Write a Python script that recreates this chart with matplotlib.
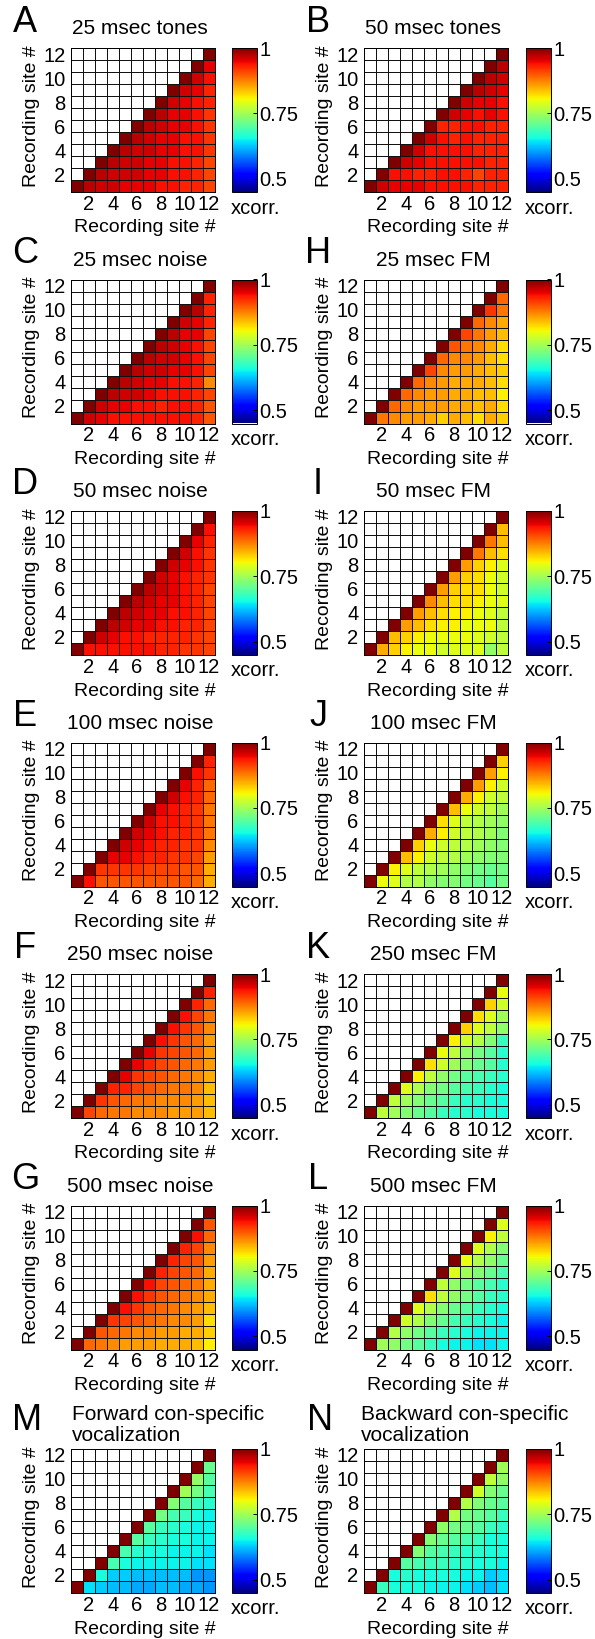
import numpy as np
import matplotlib
matplotlib.use('Agg')
import matplotlib.pyplot as plt
from matplotlib.colors import Normalize

plt.rcParams['font.family'] = ['Liberation Sans', 'DejaVu Sans']

# ---------------- data ----------------
sites = list(range(1, 13))
tick_sites = [2, 4, 6, 8, 10, 12]
cbar_ticks = [0.5, 0.75, 1.0]
cbar_ticklabels = ['0.5', '0.75', '1']
clim = (0.45, 1.0)
diag_value = 1.0

# each list: row y (1..11) -> xcorr values for columns y+1..12
tones_25 = [
    [0.97, 0.96, 0.96, 0.95, 0.95, 0.95, 0.94, 0.94, 0.93, 0.93, 0.91],
    [0.97, 0.96, 0.96, 0.96, 0.95, 0.95, 0.94, 0.94, 0.93, 0.91],
    [0.97, 0.96, 0.96, 0.95, 0.95, 0.94, 0.94, 0.93, 0.91],
    [0.97, 0.96, 0.96, 0.95, 0.95, 0.94, 0.94, 0.92],
    [0.97, 0.96, 0.95, 0.95, 0.94, 0.94, 0.92],
    [0.97, 0.96, 0.95, 0.95, 0.94, 0.92],
    [0.97, 0.95, 0.95, 0.94, 0.92],
    [0.96, 0.95, 0.94, 0.93],
    [0.96, 0.95, 0.93],
    [0.96, 0.94],
    [0.95],
]
tones_50 = [
    [0.96, 0.95, 0.95, 0.95, 0.94, 0.94, 0.94, 0.94, 0.93, 0.93, 0.93],
    [0.94, 0.94, 0.93, 0.93, 0.94, 0.94, 0.93, 0.91, 0.93, 0.93],
    [0.96, 0.95, 0.94, 0.94, 0.94, 0.94, 0.94, 0.93, 0.93],
    [0.96, 0.94, 0.94, 0.94, 0.94, 0.93, 0.93, 0.93],
    [0.96, 0.94, 0.93, 0.94, 0.93, 0.93, 0.93],
    [0.93, 0.93, 0.94, 0.94, 0.93, 0.93],
    [0.96, 0.95, 0.94, 0.95, 0.94],
    [0.96, 0.95, 0.95, 0.94],
    [0.97, 0.96, 0.95],
    [0.97, 0.96],
    [0.97],
]
noise_25 = [
    [0.96, 0.95, 0.94, 0.94, 0.94, 0.94, 0.94, 0.94, 0.94, 0.93, 0.90],
    [0.96, 0.95, 0.95, 0.94, 0.94, 0.93, 0.94, 0.94, 0.93, 0.90],
    [0.97, 0.96, 0.96, 0.95, 0.94, 0.94, 0.94, 0.93, 0.91],
    [0.97, 0.96, 0.95, 0.95, 0.94, 0.94, 0.93, 0.87],
    [0.97, 0.96, 0.96, 0.95, 0.95, 0.94, 0.91],
    [0.97, 0.96, 0.96, 0.95, 0.94, 0.91],
    [0.97, 0.96, 0.95, 0.94, 0.91],
    [0.97, 0.95, 0.95, 0.91],
    [0.96, 0.95, 0.93],
    [0.97, 0.93],
    [0.93],
]
fm_25 = [
    [0.88, 0.87, 0.86, 0.86, 0.85, 0.83, 0.85, 0.84, 0.82, 0.85, 0.83],
    [0.89, 0.87, 0.86, 0.86, 0.86, 0.85, 0.85, 0.84, 0.85, 0.82],
    [0.89, 0.87, 0.86, 0.86, 0.85, 0.85, 0.84, 0.84, 0.81],
    [0.89, 0.87, 0.86, 0.85, 0.85, 0.85, 0.84, 0.82],
    [0.91, 0.87, 0.86, 0.86, 0.85, 0.84, 0.83],
    [0.89, 0.87, 0.87, 0.86, 0.84, 0.82],
    [0.90, 0.88, 0.87, 0.85, 0.82],
    [0.91, 0.88, 0.86, 0.84],
    [0.89, 0.87, 0.85],
    [0.92, 0.88],
    [0.89],
]
noise_50 = [
    [0.94, 0.94, 0.94, 0.94, 0.94, 0.94, 0.93, 0.93, 0.92, 0.92, 0.91],
    [0.96, 0.95, 0.94, 0.94, 0.93, 0.93, 0.93, 0.93, 0.92, 0.91],
    [0.97, 0.96, 0.95, 0.95, 0.94, 0.94, 0.93, 0.93, 0.91],
    [0.97, 0.96, 0.95, 0.95, 0.94, 0.94, 0.93, 0.91],
    [0.97, 0.96, 0.95, 0.95, 0.94, 0.93, 0.91],
    [0.97, 0.96, 0.95, 0.94, 0.93, 0.91],
    [0.96, 0.95, 0.94, 0.93, 0.92],
    [0.96, 0.95, 0.94, 0.92],
    [0.96, 0.94, 0.92],
    [0.95, 0.93],
    [0.94],
]
fm_50 = [
    [0.85, 0.83, 0.81, 0.80, 0.80, 0.78, 0.79, 0.79, 0.79, 0.74, 0.77],
    [0.84, 0.83, 0.81, 0.80, 0.80, 0.80, 0.80, 0.79, 0.78, 0.77],
    [0.86, 0.84, 0.82, 0.81, 0.81, 0.80, 0.80, 0.80, 0.77],
    [0.86, 0.84, 0.82, 0.81, 0.81, 0.80, 0.79, 0.77],
    [0.87, 0.84, 0.82, 0.82, 0.81, 0.80, 0.79],
    [0.86, 0.83, 0.82, 0.82, 0.80, 0.78],
    [0.86, 0.83, 0.82, 0.80, 0.78],
    [0.86, 0.83, 0.81, 0.79],
    [0.88, 0.84, 0.82],
    [0.88, 0.84],
    [0.84],
]
noise_100 = [
    [0.94, 0.90, 0.90, 0.90, 0.90, 0.90, 0.90, 0.90, 0.90, 0.89, 0.85],
    [0.92, 0.92, 0.92, 0.92, 0.91, 0.91, 0.91, 0.90, 0.90, 0.85],
    [0.95, 0.95, 0.94, 0.93, 0.93, 0.92, 0.92, 0.91, 0.86],
    [0.96, 0.95, 0.94, 0.93, 0.93, 0.92, 0.92, 0.87],
    [0.96, 0.95, 0.94, 0.93, 0.93, 0.92, 0.88],
    [0.96, 0.94, 0.94, 0.93, 0.92, 0.88],
    [0.95, 0.94, 0.93, 0.92, 0.88],
    [0.96, 0.94, 0.93, 0.89],
    [0.95, 0.93, 0.89],
    [0.94, 0.92],
    [0.93],
]
fm_100 = [
    [0.80, 0.79, 0.76, 0.76, 0.74, 0.73, 0.73, 0.72, 0.71, 0.70, 0.72],
    [0.81, 0.79, 0.77, 0.76, 0.75, 0.74, 0.73, 0.72, 0.71, 0.72],
    [0.84, 0.81, 0.78, 0.77, 0.76, 0.75, 0.74, 0.73, 0.73],
    [0.83, 0.80, 0.78, 0.77, 0.76, 0.75, 0.74, 0.73],
    [0.85, 0.81, 0.78, 0.77, 0.76, 0.75, 0.73],
    [0.82, 0.79, 0.77, 0.76, 0.75, 0.74],
    [0.84, 0.80, 0.78, 0.77, 0.75],
    [0.85, 0.81, 0.78, 0.77],
    [0.86, 0.81, 0.78],
    [0.86, 0.81],
    [0.83],
]
noise_250 = [
    [0.91, 0.89, 0.88, 0.88, 0.87, 0.87, 0.87, 0.86, 0.86, 0.86, 0.84],
    [0.92, 0.90, 0.89, 0.88, 0.88, 0.87, 0.87, 0.87, 0.86, 0.84],
    [0.93, 0.93, 0.91, 0.90, 0.89, 0.88, 0.88, 0.87, 0.84],
    [0.95, 0.92, 0.91, 0.90, 0.89, 0.88, 0.87, 0.85],
    [0.95, 0.93, 0.91, 0.90, 0.89, 0.88, 0.86],
    [0.95, 0.92, 0.91, 0.90, 0.89, 0.86],
    [0.94, 0.92, 0.90, 0.89, 0.86],
    [0.94, 0.92, 0.90, 0.87],
    [0.94, 0.91, 0.88],
    [0.93, 0.89],
    [0.93],
]
fm_250 = [
    [0.77, 0.75, 0.73, 0.71, 0.70, 0.68, 0.67, 0.67, 0.66, 0.66, 0.66],
    [0.77, 0.75, 0.73, 0.71, 0.70, 0.68, 0.67, 0.67, 0.66, 0.66],
    [0.79, 0.76, 0.73, 0.72, 0.70, 0.69, 0.68, 0.67, 0.66],
    [0.81, 0.77, 0.74, 0.72, 0.70, 0.69, 0.68, 0.67],
    [0.82, 0.78, 0.75, 0.73, 0.71, 0.70, 0.67],
    [0.80, 0.77, 0.74, 0.72, 0.70, 0.67],
    [0.81, 0.78, 0.76, 0.73, 0.68],
    [0.83, 0.79, 0.77, 0.74],
    [0.82, 0.79, 0.75],
    [0.83, 0.78],
    [0.80],
]
noise_500 = [
    [0.89, 0.88, 0.87, 0.86, 0.86, 0.86, 0.85, 0.85, 0.85, 0.84, 0.81],
    [0.90, 0.89, 0.88, 0.87, 0.87, 0.86, 0.86, 0.85, 0.85, 0.83],
    [0.92, 0.91, 0.90, 0.89, 0.88, 0.87, 0.87, 0.86, 0.82],
    [0.94, 0.92, 0.90, 0.89, 0.88, 0.87, 0.86, 0.84],
    [0.94, 0.92, 0.90, 0.89, 0.88, 0.87, 0.85],
    [0.94, 0.91, 0.90, 0.89, 0.88, 0.85],
    [0.93, 0.91, 0.90, 0.89, 0.85],
    [0.93, 0.91, 0.90, 0.86],
    [0.93, 0.91, 0.87],
    [0.94, 0.89],
    [0.90],
]
fm_500 = [
    [0.75, 0.74, 0.72, 0.70, 0.68, 0.66, 0.65, 0.65, 0.64, 0.64, 0.65],
    [0.76, 0.74, 0.72, 0.70, 0.68, 0.67, 0.66, 0.65, 0.65, 0.65],
    [0.78, 0.76, 0.73, 0.71, 0.69, 0.68, 0.67, 0.66, 0.65],
    [0.79, 0.76, 0.73, 0.71, 0.70, 0.68, 0.67, 0.66],
    [0.82, 0.77, 0.74, 0.72, 0.70, 0.68, 0.67],
    [0.77, 0.74, 0.72, 0.70, 0.69, 0.67],
    [0.79, 0.75, 0.73, 0.71, 0.69],
    [0.80, 0.76, 0.74, 0.71],
    [0.79, 0.76, 0.73],
    [0.81, 0.77],
    [0.79],
]
voc_forward = [
    [0.64, 0.63, 0.62, 0.62, 0.61, 0.61, 0.62, 0.62, 0.61, 0.61, 0.60],
    [0.66, 0.63, 0.63, 0.62, 0.62, 0.62, 0.62, 0.62, 0.60, 0.60],
    [0.69, 0.66, 0.65, 0.65, 0.65, 0.65, 0.65, 0.64, 0.64],
    [0.69, 0.67, 0.66, 0.66, 0.65, 0.65, 0.65, 0.64],
    [0.70, 0.68, 0.67, 0.66, 0.66, 0.65, 0.65],
    [0.70, 0.68, 0.67, 0.66, 0.65, 0.65],
    [0.72, 0.69, 0.68, 0.66, 0.65],
    [0.73, 0.70, 0.68, 0.67],
    [0.75, 0.72, 0.69],
    [0.74, 0.70],
    [0.71],
]
voc_backward = [
    [0.68, 0.66, 0.66, 0.66, 0.65, 0.65, 0.65, 0.64, 0.63, 0.62, 0.64],
    [0.66, 0.67, 0.66, 0.66, 0.66, 0.66, 0.65, 0.65, 0.63, 0.64],
    [0.70, 0.69, 0.68, 0.68, 0.67, 0.67, 0.66, 0.66, 0.65],
    [0.73, 0.70, 0.69, 0.68, 0.67, 0.67, 0.66, 0.66],
    [0.73, 0.71, 0.70, 0.69, 0.68, 0.66, 0.66],
    [0.74, 0.72, 0.71, 0.70, 0.68, 0.67],
    [0.76, 0.72, 0.71, 0.70, 0.68],
    [0.76, 0.73, 0.71, 0.70],
    [0.78, 0.73, 0.71],
    [0.77, 0.74],
    [0.75],
]

panel_letters = ['A', 'B', 'C', 'H', 'D', 'I', 'E', 'J', 'F', 'K', 'G', 'L', 'M', 'N']
panel_titles = ['25 msec tones', '50 msec tones', '25 msec noise', '25 msec FM',
                '50 msec noise', '50 msec FM', '100 msec noise', '100 msec FM',
                '250 msec noise', '250 msec FM', '500 msec noise', '500 msec FM',
                'Forward con-specific\nvocalization', 'Backward con-specific\nvocalization']
panel_data = [tones_25, tones_50, noise_25, fm_25, noise_50, fm_50, noise_100, fm_100,
              noise_250, fm_250, noise_500, fm_500, voc_forward, voc_backward]

# ---------------- layout (pixels) ----------------
W, H = 595, 1639
fig = plt.figure(figsize=(W / 100, H / 100), dpi=100)

col_hx = [71, 364]
col_cx = [232, 526]
hw, cw, hh = 144, 24.5, 144
row_tops = [48, 279.5, 511, 742.5, 974, 1205.5, 1449]
FS_TICK = 14.5
FS_LAB = 14
FS_TITLE = 15

def fx(x):
    return x / W

def fy(y):
    return 1 - y / H

cmap = plt.get_cmap('jet').copy()
cmap.set_bad('white')
norm = Normalize(*clim)

def build(rows):
    n = len(sites)
    m = np.full((n, n), np.nan)
    for i in range(n):
        m[i, i] = diag_value
    for i, vals in enumerate(rows):
        m[i, i + 1:] = vals
    return np.ma.masked_invalid(m)

edges = np.arange(0.5, len(sites) + 1, 1.0)

for k, (letter, title, rows) in enumerate(zip(panel_letters, panel_titles, panel_data)):
    col = k % 2
    r = k // 2
    top = row_tops[r]
    x0 = col_hx[col]
    ax = fig.add_axes([fx(x0), fy(top + hh), hw / W, hh / H])
    mesh = ax.pcolormesh(edges, edges, build(rows), cmap=cmap, norm=norm,
                         edgecolors='#111111', linewidth=0.6)
    ax.set_xlim(0.5, 12.5)
    ax.set_ylim(0.5, 12.5)
    ax.set_xticks(tick_sites)
    ax.set_yticks(tick_sites)
    ax.tick_params(length=0, labelsize=FS_TICK, pad=4)
    ax.tick_params(axis='x', pad=2)
    for s in ax.spines.values():
        s.set_linewidth(0.7)

    cax = fig.add_axes([fx(col_cx[col]), fy(top + hh), cw / W, hh / H])
    cb = fig.colorbar(mesh, cax=cax, ticks=cbar_ticks)
    cb.set_ticklabels(cbar_ticklabels)
    cb.outline.set_linewidth(0.7)
    cax.tick_params(direction='in', length=3, width=0.7, labelsize=FS_TICK, pad=2)

    fig.text(fx(col_cx[col] - 1), fy(top + hh + 16), 'xcorr.', fontsize=FS_TICK,
             ha='left', va='center')
    fig.text(fx(x0 + hw / 2 + 2), fy(top + hh + 36), 'Recording site #', fontsize=FS_LAB,
             ha='center', va='center')
    fig.text(fx(x0 - 39), fy(top + hh / 2 - 4), 'Recording site #', fontsize=FS_LAB,
             ha='center', va='center', rotation=90)

    if '\n' in title:
        fig.text(fx(x0 + 1 - 4 * col), fy(top - 24), title, fontsize=FS_TITLE,
                 ha='left', va='center', linespacing=1.15)
        fig.text(fx(x0 - 44), fy(top - 29), letter, fontsize=26,
                 ha='center', va='center')
    else:
        fig.text(fx(x0 + hw / 2 - 3), fy(top - 19), title, fontsize=FS_TITLE,
                 ha='center', va='center')
        fig.text(fx(x0 - 46), fy(top - 26), letter, fontsize=26,
                 ha='center', va='center')

fig.savefig('out.png', dpi=100)
